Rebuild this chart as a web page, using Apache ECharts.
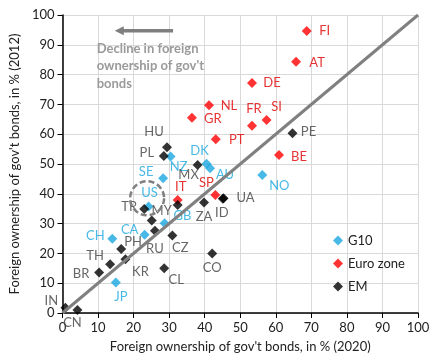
<!DOCTYPE html>
<html><head><meta charset="utf-8">
<script src="https://cdn.jsdelivr.net/npm/echarts@6/dist/echarts.min.js"></script>
<style>html,body{margin:0;padding:0;background:#fff}#c{width:444px;height:360px}</style>
</head><body><div id="c"></div>
<script>
// ---- data ----
const g10Names = ['DK','AU','NZ','SE','US','NO','GB','CA','CH','JP'];
const g10X     = [40.5, 41.5, 30.4, 28.3, 24.2, 56.2, 28.7, 23.1, 14.0, 15.0];
const g10Y     = [50.1, 48.6, 52.5, 45.2, 35.7, 46.3, 30.1, 26.3, 24.9, 10.2];

const euroNames = ['FI','AT','DE','NL','GR','SI','FR','PT','BE','IT','SP'];
const euroX     = [68.7, 65.7, 53.3, 41.2, 36.4, 57.4, 53.3, 43.1, 60.9, 32.4, 43.0];
const euroY     = [94.6, 84.3, 77.2, 69.7, 65.5, 64.8, 62.8, 58.3, 53.0, 37.9, 39.6];

const emNames = ['HU','PL','PE','MX','TR','MY','','RU','CZ','PH','KR','TH','BR','CL','CO','ZA','UA','ID','IN','CN'];
const emX     = [29.4, 28.5, 64.7, 38.0, 23.0, 32.4, 25.1, 26.0, 30.9, 16.5, 17.7, 13.4, 10.3, 28.6, 42.1, 39.8, 45.3, 45.1, 0.8, 4.2];
const emY     = [55.6, 52.7, 60.3, 49.7, 34.9, 36.2, 31.0, 27.6, 26.0, 21.5, 18.0, 16.4, 13.6, 15.0, 20.0, 37.1, 38.5, 38.3, 1.8, 1.0];

const seriesNames = ['G10', 'Euro zone', 'EM'];
const diagonal = [[0, 0], [100, 100]];
const axisTitleX = "Foreign ownership of gov't bonds, in % (2020)";
const axisTitleY = "Foreign ownership of gov't bonds, in % (2012)";
const noteText = "Decline in foreign\nownership of gov't\nbonds";

// ---- layout (label offsets in px from marker centre) ----
const labelOffsets = {
  FI:[18,0], AT:[21,1], DE:[20,0], NL:[20,1], GR:[21,1], FR:[2,-17], SI:[10,-13], PT:[21,1],
  BE:[20,2], IT:[3,-13], SP:[-9,-12], PE:[16,-1], DK:[-7,-13], AU:[15,7], MX:[-9,10], NO:[17,11],
  UA:[22,0], ID:[-1,14], ZA:[0,14], HU:[-13,-15], PL:[-17,-3], NZ:[8,10], SE:[-17,-6], US:[1,-14],
  TR:[-15,-2], MY:[-16,6], GB:[18,-7], CA:[-15,-5], CH:[-17,-3], PH:[12,-7], RU:[0,18], CZ:[8,12],
  KR:[15,12], TH:[-15,-8], BR:[-18,1], JP:[5,14], CL:[12,12], CO:[0,14], IN:[-14,-7], CN:[-5,13]
};

const FONT = 'Lato, "Liberation Sans", sans-serif';
const colors = ['#1aa7e0', '#ff0000', '#000000'];
const labelColors = ['#1aa7e0', '#e00000', '#404040'];

function build(names, xs, ys) {
  return names.map((n, i) => ({
    name: n,
    value: [xs[i], ys[i]],
    label: { offset: labelOffsets[n] || [0, 0] }
  }));
}

function scatter(name, names, xs, ys, idx) {
  return {
    name: name, type: 'scatter', symbol: 'diamond', symbolSize: 10, z: 3,
    itemStyle: { color: colors[idx] },
    data: build(names, xs, ys),
    label: {
      show: true, position: 'inside', align: 'center', verticalAlign: 'middle',
      formatter: p => p.name, color: labelColors[idx], fontSize: 13, fontFamily: FONT
    },
    emphasis: { disabled: true }
  };
}

const chart = echarts.init(document.getElementById('c'), null, { renderer: 'canvas' });
chart.setOption({
  animation: false,
  grid: { left: 57, right: 26, top: 15, bottom: 47 },
  legend: {
    data: seriesNames.map(n => ({ name: n, icon: 'diamond' })),
    orient: 'vertical', left: 328, top: 229, itemWidth: 10, itemHeight: 10, itemGap: 10,
    textStyle: { fontSize: 13, fontFamily: FONT, color: '#222' }
  },
  xAxis: {
    type: 'value', min: 0, max: 100, interval: 10,
    name: axisTitleX, nameLocation: 'middle', nameGap: 27,
    nameTextStyle: { fontSize: 13, fontFamily: FONT, color: '#222' },
    axisLine: { lineStyle: { color: '#000', width: 1.5 } },
    axisTick: { show: true, length: 5, lineStyle: { color: '#000' } },
    axisLabel: { fontSize: 13, fontFamily: FONT, color: '#222', margin: 8 },
    splitLine: { lineStyle: { color: '#d9d9d9' } }
  },
  yAxis: {
    type: 'value', min: 0, max: 100, interval: 10,
    name: axisTitleY, nameLocation: 'middle', nameGap: 36,
    nameTextStyle: { fontSize: 13, fontFamily: FONT, color: '#222' },
    axisLine: { show: true, lineStyle: { color: '#000', width: 1.5 } },
    axisTick: { show: true, length: 5, lineStyle: { color: '#000' } },
    axisLabel: { fontSize: 13, fontFamily: FONT, color: '#222', margin: 8 },
    splitLine: { lineStyle: { color: '#d9d9d9' } }
  },
  series: [
    scatter(seriesNames[0], g10Names, g10X, g10Y, 0),
    scatter(seriesNames[1], euroNames, euroX, euroY, 1),
    scatter(seriesNames[2], emNames, emX, emY, 2),
    {
      name: 'diag', type: 'line', data: diagonal, symbol: 'none', z: 4,
      lineStyle: { color: '#808080', width: 3 }, silent: true
    }
  ]
});

// annotations positioned through the grid's own scales
const px = v => chart.convertToPixel({ gridIndex: 0 }, v);
const arrowStart = px([31.1, 94.7]);
const arrowEnd = px([14.7, 94.7]);
const textPos = px([9.6, 91.6]);
const circleC = px([23.8, 38.5]);
chart.setOption({
  graphic: [
    { type: 'line', shape: { x1: arrowStart[0], y1: arrowStart[1], x2: arrowEnd[0] + 7, y2: arrowEnd[1] },
      style: { stroke: '#7f7f7f', lineWidth: 3.5 }, z: 10 },
    { type: 'polygon', shape: { points: [[arrowEnd[0], arrowEnd[1]], [arrowEnd[0] + 9, arrowEnd[1] - 4.5], [arrowEnd[0] + 9, arrowEnd[1] + 4.5]] },
      style: { fill: '#7f7f7f' }, z: 10 },
    { type: 'text', x: textPos[0], y: textPos[1],
      style: { text: noteText, font: 'bold 13px ' + FONT, fill: '#9a9a9a', lineHeight: 17.5 }, z: 10 },
    { type: 'circle', shape: { cx: circleC[0], cy: circleC[1], r: 17 },
      style: { fill: 'none', stroke: '#808080', lineWidth: 2.5, lineDash: [6, 3] }, z: 10 }
  ]
});
</script>
</body></html>
